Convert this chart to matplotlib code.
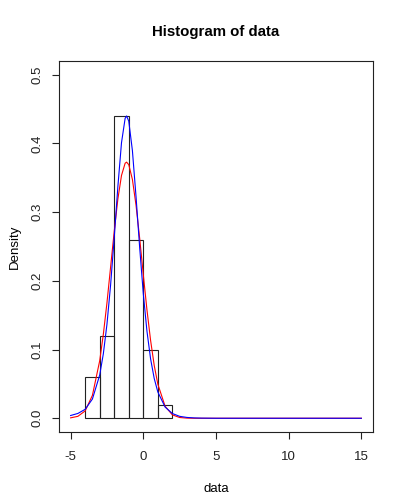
import numpy as np
import matplotlib.pyplot as plt

plt.rcParams['font.family'] = ['Liberation Sans', 'DejaVu Sans']

# Histogram bins (width 1) and densities
bin_edges = [-4, -3, -2, -1, 0, 1, 2]
densities = [0.06, 0.12, 0.44, 0.26, 0.10, 0.02]

# Fitted density curves
curve_x = [-5, -4.5, -4, -3.5, -3, -2.75, -2.5, -2.25, -2, -1.75, -1.5, -1.25,
           -1.15, -1.0, -0.75, -0.5, -0.25, 0, 0.25, 0.5, 0.75, 1.0, 1.5, 2.0,
           2.5, 3.0, 3.5, 4.0, 5.0, 15.0]
red_y = [0.0006, 0.0028, 0.0107, 0.0334, 0.0836, 0.122, 0.168, 0.220, 0.272,
         0.319, 0.3534, 0.3712, 0.3728, 0.3691, 0.3476, 0.310, 0.262, 0.209,
         0.158, 0.1136, 0.077, 0.0496, 0.0174, 0.0049, 0.0011, 0.0002, 0.0,
         0.0, 0.0, 0.0]
blue_y = [0.004, 0.007, 0.013, 0.028, 0.0628, 0.0937, 0.1368, 0.1939, 0.263,
          0.337, 0.401, 0.4365, 0.44, 0.4324, 0.3897, 0.3225, 0.2485, 0.1813,
          0.127, 0.0866, 0.058, 0.0382, 0.0163, 0.0069, 0.0028, 0.0012, 0.0005,
          0.0002, 0.0, 0.0]

fig = plt.figure(figsize=(3.94, 5.0), dpi=100)
ax = fig.add_axes([0.1497, 0.136, 0.797, 0.742])

widths = np.diff(bin_edges)
ax.bar(bin_edges[:-1], densities, width=widths, align='edge',
       facecolor='none', edgecolor='#222222', linewidth=0.8)

ax.plot(curve_x, red_y, color='red', linewidth=0.8)
ax.plot(curve_x, blue_y, color='blue', linewidth=0.8)

ax.set_xlim(-5.8, 15.8)
ax.set_ylim(-0.02, 0.52)
ax.set_xticks([-5, 0, 5, 10, 15])
ax.set_yticks([0.0, 0.1, 0.2, 0.3, 0.4, 0.5])
ax.set_yticklabels(['0.0', '0.1', '0.2', '0.3', '0.4', '0.5'], rotation=90, va='center')
ax.set_xticklabels(['-5', '0', '5', '10', '15'])
ax.tick_params(direction='out', length=5, width=0.8, labelsize=9.5,
               colors='#222222')
ax.tick_params(axis='x', pad=9)
ax.tick_params(axis='y', pad=6)
for s in ax.spines.values():
    s.set_linewidth(0.8)
    s.set_color('#222222')

ax.set_xlabel('data', fontsize=9.5, labelpad=14)
ax.set_ylabel('Density', fontsize=9.5, labelpad=8)
ax.set_title('Histogram of data', fontsize=10.8, fontweight='bold', pad=18)

fig.savefig('out.png', dpi=100)
